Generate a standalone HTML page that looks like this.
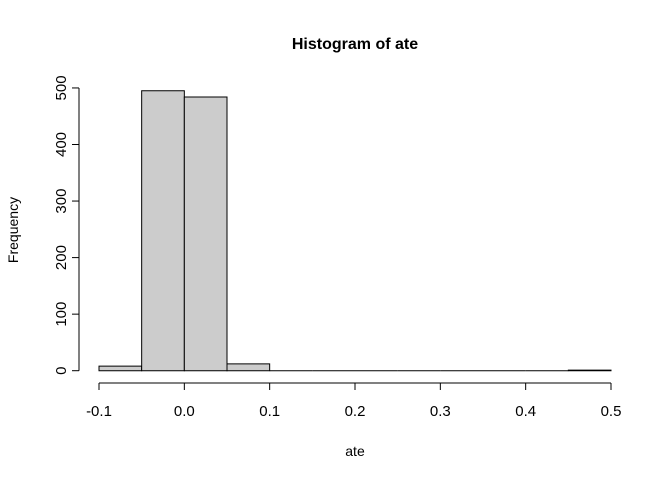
<!DOCTYPE html>
<html><head><meta charset="utf-8"><style>body{margin:0;background:#fff}svg{display:block;font-family:"Liberation Sans",Arial,sans-serif}</style></head>
<body>
<svg id="chart" width="672" height="480">
<text x="355" y="49" text-anchor="middle" font-weight="bold" font-size="16">Histogram of ate</text>
<text x="355" y="456" text-anchor="middle" font-size="14">ate</text>
<text transform="translate(18,230) rotate(-90)" text-anchor="middle" font-size="14">Frequency</text>
<g id="bars"></g><g id="xaxis"></g><g id="yaxis"></g>
</svg>
<script>
const binEdges=[-0.1,-0.05,0,0.05,0.1,0.15,0.2,0.25,0.3,0.35,0.4,0.45,0.5];
const counts=[8,495,484,12,0,0,0,0,0,0,0,1];
const xTicks=[-0.1,0,0.1,0.2,0.3,0.4,0.5];
const xTickLabels=["-0.1","0.0","0.1","0.2","0.3","0.4","0.5"];
const yTicks=[0,100,200,300,400,500];
const NS="http://www.w3.org/2000/svg";
const xs=v=>99+(v+0.1)/0.6*512;
const ys=v=>370.7-v*0.5655;
function mk(t,a,p){const e=document.createElementNS(NS,t);for(const k in a)e.setAttribute(k,a[k]);p.appendChild(e);return e;}
const bars=document.getElementById('bars');
counts.forEach((c,i)=>{const x0=xs(binEdges[i]),x1=xs(binEdges[i+1]),y0=ys(0),y1=ys(c);
const r=mk('path',{d:`M${x0},${y0}L${x0},${y1}L${x1},${y1}L${x1},${y0}Z`,fill:'#cccccc',stroke:'#000','stroke-width':1},bars);

});
const xa=document.getElementById('xaxis');


mk('line',{x1:xs(xTicks[0]),x2:xs(xTicks[xTicks.length-1]),y1:383,y2:383,stroke:'#000'},xa);
xTicks.forEach((t,i)=>{mk('line',{x1:xs(t),x2:xs(t),y1:383,y2:390,stroke:'#000'},xa);
const l=mk('text',{x:xs(t),y:416,'text-anchor':'middle','font-size':15},xa);l.textContent=xTickLabels[i];

});
const ya=document.getElementById('yaxis');


mk('line',{x1:79,x2:79,y1:ys(0),y2:ys(yTicks[yTicks.length-1]),stroke:'#000'},ya);
yTicks.forEach(t=>{mk('line',{x1:72,x2:79,y1:ys(t),y2:ys(t),stroke:'#000'},ya);
const l=mk('text',{transform:`translate(66,${ys(t)}) rotate(-90)`,'text-anchor':'middle','font-size':15},ya);l.textContent=t;

});
</script>
</body></html>
